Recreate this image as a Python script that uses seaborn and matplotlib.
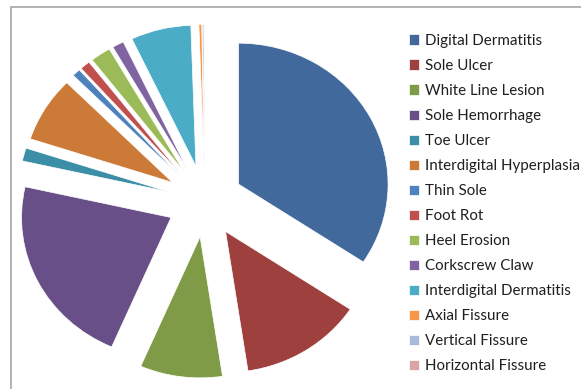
import matplotlib
matplotlib.use("Agg")
import matplotlib.pyplot as plt
from matplotlib.patches import Rectangle
import seaborn as sns

# Share of each hoof lesion type (percent of recorded lesions)
lesions = [
    "Digital Dermatitis", "Sole Ulcer", "White Line Lesion", "Sole Hemorrhage",
    "Toe Ulcer", "Interdigital Hyperplasia", "Thin Sole", "Foot Rot",
    "Heel Erosion", "Corkscrew Claw", "Interdigital Dermatitis",
    "Axial Fissure", "Vertical Fissure", "Horizontal Fissure",
]
shares = [34.3, 13.3, 8.9, 22.0, 1.5, 7.5, 0.9, 1.1, 2.2, 1.25, 6.5, 0.3, 0.17, 0.08]
slice_colors = [
    "#41699B", "#9D403E", "#7F9B48", "#694F87", "#3B8EA5", "#CC7A37",
    "#4F81BD", "#C0504D", "#9BBB59", "#8064A2", "#4BACC6", "#F79646",
    "#A9B9D8", "#D9A6A5",
]

sns.set_theme(style="white")
plt.rcParams["font.family"] = ["Lato", "DejaVu Sans"]
palette = sns.color_palette(slice_colors)

W, H = 581, 389
fig = plt.figure(figsize=(W / 100, H / 100), dpi=100)
fig.patch.set_facecolor("white")

ax = fig.add_axes([0, 0, 1, 1])
wedges, _ = ax.pie(
    shares,
    colors=palette,
    explode=[0.255] * len(shares),
    startangle=90,
    counterclock=False,
    radius=1.0,
    wedgeprops=dict(edgecolor="white", linewidth=0.5),
)

# pie centre and radii in pixels (slightly wider than tall)
cx, cy = 205.0, H - 201.2
rx, ry = 149.5, 141.0
ax.set_aspect("auto")
ax.set_xlim(-cx / rx, (W - cx) / rx)
ax.set_ylim(-cy / ry, (H - cy) / ry)
ax.axis("off")

# chart-area border
fig.add_artist(Rectangle((10.5 / W, -0.1), 1.2, (H - 7.0) / H + 0.1,
                         transform=fig.transFigure, fill=False,
                         edgecolor="#A6A6A6", linewidth=1.2))

fs = 10.9
fig.legend(
    wedges, lesions,
    loc="upper left",
    bbox_to_anchor=(409 / W, (H - 33.8) / H),
    frameon=False,
    fontsize=fs,
    borderpad=0, borderaxespad=0,
    handlelength=0.66, handleheight=0.66,
    handletextpad=0.4,
    labelspacing=0.73,
    labelcolor="#1F1F1F",
)

fig.savefig("out.png", dpi=100, facecolor="white")
